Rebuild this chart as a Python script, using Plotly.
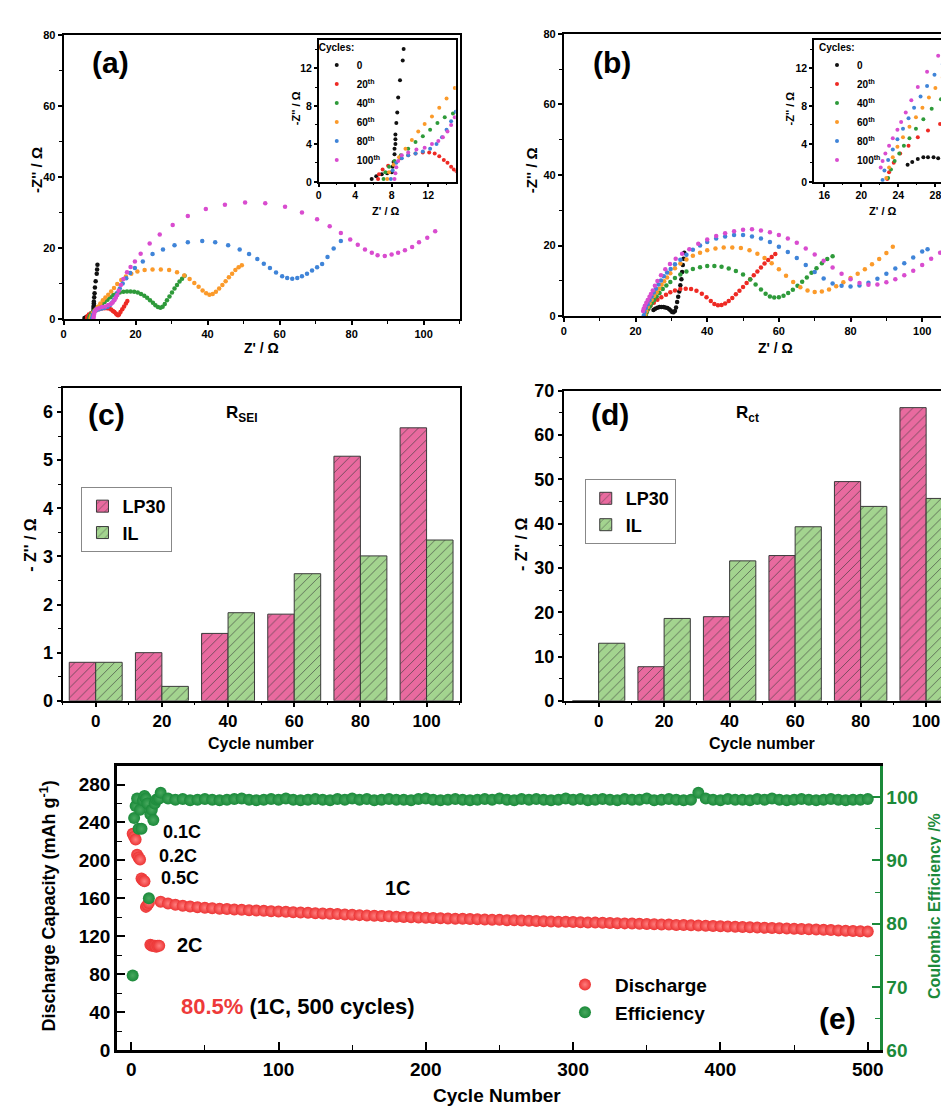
import plotly.graph_objects as go

W, H = 949, 1109
def fx(p): return p / W
def fy(p): return 1 - p / H

FONT = "Liberation Sans, Arial, sans-serif"
CYCLE_LABELS = ["0", "20<sup>th</sup>", "40<sup>th</sup>", "60<sup>th</sup>", "80<sup>th</sup>", "100<sup>th</sup>"]
CYCLE_COLORS = ['#111111', '#ee2a24', '#2e9a3a', '#fb9a2a', '#3f84d8', '#d94ccf']

# ---------------- (a) Nyquist, LP30 ----------------
A0_X = [5.8, 6.3, 6.9, 7.5, 8.0, 8.1, 8.2, 8.3, 8.3, 8.4, 8.4, 8.4, 8.5, 8.6, 8.7, 8.9, 9.2, 9.3, 9.4]
A0_Y = [0.3, 0.6, 0.8, 0.9, 1.0, 1.6, 2.1, 2.9, 3.5, 4.0, 4.5, 5.0, 6.2, 7.3, 8.9, 10.7, 12.8, 14.0, 15.3]
A20_X = [6.5, 6.6, 7.0, 7.6, 8.3, 9.0, 9.8, 10.6, 11.4, 12.1, 12.7, 13.2, 13.7, 14.1, 14.5, 14.8, 15.1, 15.4, 15.8, 16.3, 16.8, 17.3, 17.7]
A20_Y = [0.3, 0.8, 1.3, 1.7, 2.1, 2.5, 2.8, 3.0, 3.1, 3.1, 3.0, 2.7, 2.3, 2.0, 1.6, 1.3, 1.1, 1.3, 2.0, 2.8, 3.6, 4.4, 5.1]
A40_X = [7.1, 7.3, 7.7, 8.3, 9.0, 9.8, 10.6, 11.4, 12.2, 13.0, 13.8, 14.7, 15.6, 16.6, 17.6, 18.6, 19.6, 20.6, 21.5, 22.4, 23.2, 24.0, 24.8, 25.5, 26.2, 26.9, 27.5, 28.1, 28.7, 29.4, 30.1, 30.8, 31.5, 32.2, 32.9, 33.6]
A40_Y = [0.3, 1.0, 1.6, 2.2, 2.8, 3.5, 4.2, 4.8, 5.5, 6.2, 6.8, 7.2, 7.5, 7.7, 7.8, 7.8, 7.7, 7.5, 7.1, 6.6, 6.0, 5.3, 4.6, 3.9, 3.4, 3.2, 3.5, 4.3, 5.3, 6.4, 7.5, 8.6, 9.6, 10.6, 11.4, 12.2]
A60_X = [7.5, 7.7, 8.2, 8.8, 9.5, 10.2, 10.9, 11.6, 12.4, 13.2, 14.0, 14.9, 16.0, 17.3, 18.8, 20.5, 22.5, 24.7, 27.0, 29.3, 31.5, 33.5, 35.0, 36.3, 37.5, 38.6, 39.6, 40.5, 41.4, 42.3, 43.2, 44.1, 45.0, 45.9, 46.8, 47.7, 48.6, 49.5]
A60_Y = [0.3, 1.0, 1.8, 2.6, 3.5, 4.4, 5.3, 6.1, 6.9, 7.8, 8.8, 9.9, 11.0, 12.0, 12.8, 13.4, 13.8, 14.0, 14.0, 13.8, 13.2, 12.3, 11.3, 10.2, 9.1, 8.1, 7.3, 6.9, 7.1, 7.7, 8.6, 9.6, 10.7, 11.8, 12.8, 13.8, 14.6, 15.2]
A80_X = [7.9, 8.1, 8.5, 9.1, 9.8, 10.6, 11.4, 12.2, 12.9, 13.5, 14.0, 14.5, 15.0, 15.6, 16.4, 17.4, 18.5, 19.8, 22.0, 24.7, 27.6, 30.8, 34.5, 38.5, 42.1, 45.7, 48.9, 51.5, 53.8, 55.6, 57.3, 59.0, 60.7, 62.1, 63.5, 64.9, 66.2, 67.6, 69.0, 70.4, 71.8, 73.3, 75.0, 77.0]
A80_Y = [0.3, 1.2, 2.0, 2.5, 2.8, 3.0, 3.2, 3.5, 4.0, 4.7, 5.5, 6.4, 7.4, 8.6, 10.0, 11.5, 13.0, 14.4, 16.2, 18.3, 19.6, 20.8, 21.6, 22.0, 21.6, 20.8, 19.6, 18.3, 16.9, 15.6, 14.4, 13.1, 12.1, 11.6, 11.4, 11.6, 12.1, 12.8, 13.7, 14.6, 15.5, 17.5, 19.9, 22.0]
A100_X = [8.3, 8.4, 8.5, 8.7, 9.1, 9.8, 10.7, 11.6, 12.4, 13.1, 13.6, 14.1, 14.5, 14.9, 15.3, 15.9, 16.6, 17.6, 18.6, 19.8, 21.4, 23.9, 26.7, 30.3, 34.5, 39.5, 44.8, 50.4, 56.0, 61.5, 66.2, 70.4, 73.9, 77.0, 79.6, 81.7, 83.7, 85.6, 87.2, 89.2, 91.1, 92.9, 94.8, 96.8, 98.7, 101.0, 103.2]
A100_Y = [0.3, 0.9, 1.55, 2.2, 2.8, 3.1, 3.4, 3.6, 4.0, 4.3, 4.7, 5.3, 6.0, 6.8, 8.0, 9.6, 11.3, 13.2, 14.7, 16.2, 18.4, 21.3, 23.8, 26.5, 29.0, 31.0, 32.2, 32.8, 32.6, 31.6, 30.0, 28.1, 26.1, 24.2, 22.4, 20.9, 19.6, 18.7, 18.0, 17.8, 18.2, 18.7, 19.4, 20.3, 21.6, 22.9, 24.7]

# ---------------- (b) Nyquist, IL ----------------
B0_X = [25.0, 25.5, 26.1, 26.7, 27.2, 27.8, 28.3, 28.9, 29.4, 29.8, 30.2, 30.6, 31.0, 31.3, 31.6, 31.9, 32.2, 32.5, 32.8, 33.0, 33.2, 33.4, 33.6]
B0_Y = [1.8, 2.1, 2.4, 2.6, 2.6, 2.6, 2.5, 2.3, 2.0, 1.6, 1.2, 1.1, 1.5, 2.5, 4.0, 5.5, 7.0, 8.8, 10.5, 12.5, 14.5, 16.3, 18.0]
B20_X = [22.8, 23.0, 23.5, 24.2, 25.1, 26.1, 27.2, 28.5, 29.7, 31.0, 32.5, 34.0, 35.5, 37.0, 38.5, 39.8, 41.0, 42.0, 43.0, 44.0, 45.0, 46.0, 47.0, 48.0, 49.0, 50.0, 51.0, 52.0, 53.0, 54.0, 55.0, 56.0, 57.0, 58.0, 59.0]
B20_Y = [0.3, 1.0, 2.0, 3.0, 3.8, 4.7, 5.4, 6.1, 6.8, 7.3, 7.7, 7.8, 7.7, 7.2, 6.4, 5.4, 4.3, 3.5, 3.1, 3.2, 3.6, 4.3, 5.2, 6.2, 7.2, 8.3, 9.4, 10.5, 11.6, 12.7, 13.8, 14.9, 15.9, 16.8, 17.6]
B40_X = [22.9, 23.2, 23.6, 24.1, 24.6, 25.2, 25.9, 26.7, 27.6, 28.6, 29.7, 31.0, 32.5, 34.2, 36.0, 38.0, 40.0, 42.0, 44.0, 46.0, 48.0, 50.0, 52.0, 53.5, 55.0, 56.3, 57.5, 58.7, 60.0, 61.3, 62.6, 63.9, 65.2, 66.5, 67.8, 69.1, 70.5, 72.0, 73.5, 75.0]
B40_Y = [0.4, 1.3, 2.2, 3.0, 3.8, 4.6, 5.6, 6.6, 7.7, 8.7, 9.7, 10.8, 11.8, 12.7, 13.4, 13.9, 14.2, 14.2, 14.0, 13.5, 12.8, 11.8, 10.4, 9.0, 7.6, 6.4, 5.6, 5.3, 5.4, 5.8, 6.6, 7.5, 8.6, 9.8, 11.0, 12.3, 13.6, 15.0, 16.2, 17.0]
B60_X = [22.7, 23.0, 23.4, 23.9, 24.5, 25.2, 25.9, 26.6, 27.3, 28.0, 28.8, 29.7, 31.0, 32.5, 34.2, 36.0, 38.0, 40.0, 42.3, 44.6, 47.0, 49.4, 51.8, 54.0, 56.0, 58.0, 60.0, 62.0, 64.0, 66.0, 68.0, 70.0, 72.0, 74.0, 76.0, 78.0, 80.0, 82.0, 84.0, 86.0, 88.0, 90.0, 91.8]
B60_Y = [0.4, 1.5, 2.6, 3.7, 4.7, 5.8, 6.8, 7.8, 8.9, 9.9, 11.0, 12.2, 13.6, 14.9, 16.1, 17.1, 18.0, 18.7, 19.2, 19.5, 19.5, 19.3, 18.7, 17.7, 16.5, 15.0, 13.3, 11.5, 9.7, 8.2, 7.3, 6.9, 7.0, 7.6, 8.5, 9.6, 10.8, 12.0, 13.3, 14.7, 16.2, 17.9, 19.7]
B80_X = [22.3, 22.5, 22.9, 23.4, 23.9, 24.5, 25.1, 25.7, 26.4, 27.1, 27.9, 28.8, 29.8, 31.0, 32.5, 34.2, 36.0, 38.0, 40.0, 42.5, 45.0, 47.5, 50.0, 52.5, 55.0, 57.5, 60.0, 62.5, 65.0, 67.5, 70.0, 72.5, 75.0, 77.5, 80.0, 82.5, 85.0, 87.5, 90.0, 92.5, 95.0, 97.5, 100.0, 101.5]
B80_Y = [0.2, 1.2, 2.3, 3.4, 4.5, 5.6, 6.7, 7.8, 9.0, 10.1, 11.3, 12.4, 13.4, 14.7, 16.0, 17.4, 18.8, 20.0, 21.0, 22.0, 22.6, 23.0, 23.0, 22.6, 22.0, 21.0, 19.7, 18.2, 16.5, 14.5, 12.5, 10.7, 9.3, 8.6, 8.4, 8.7, 9.5, 10.6, 12.0, 13.5, 15.0, 16.6, 18.3, 19.0]
B100_X = [22.1, 22.3, 22.6, 23.0, 23.4, 23.9, 24.3, 24.8, 25.4, 26.1, 27.1, 28.3, 29.6, 31.2, 33.0, 35.0, 37.5, 40.0, 42.5, 45.0, 47.5, 50.0, 52.5, 55.0, 57.5, 60.0, 62.5, 65.0, 67.5, 70.0, 72.5, 75.0, 77.5, 80.0, 82.5, 85.0, 87.5, 90.0, 92.5, 95.0, 97.5, 100.0, 102.5, 105.0, 106.2]
B100_Y = [1.5, 2.2, 3.0, 3.8, 4.6, 5.5, 6.3, 7.3, 8.6, 10.0, 11.6, 13.3, 14.8, 16.3, 17.7, 19.0, 20.5, 21.7, 22.7, 23.5, 24.1, 24.5, 24.6, 24.3, 23.8, 23.0, 22.0, 20.8, 19.2, 17.5, 15.7, 13.8, 12.0, 10.5, 9.4, 8.9, 9.0, 9.6, 10.5, 11.6, 12.9, 14.5, 16.3, 18.0, 19.2]

# ---------------- (c), (d) bars ----------------
BAR_CYCLES = [0, 20, 40, 60, 80, 100]
RSEI_LP30 = [0.80, 1.00, 1.40, 1.80, 5.08, 5.67]
RSEI_IL = [0.80, 0.30, 1.83, 2.64, 3.01, 3.34]
RCT_LP30 = [0.0, 7.7, 19.0, 32.8, 49.5, 66.2]
RCT_IL = [13.0, 18.6, 31.6, 39.3, 43.9, 45.7]

# ---------------- (e) cycling ----------------
E_EARLY_CYC = [1, 2, 3, 4, 5, 6, 7, 8, 9, 10, 11, 12, 13, 14, 15, 16, 17, 18, 19]
E_EARLY_CAP = [228, 225, 222, 206, 203, 201, 181, 179, 178, 151, 153, 155, 111, 110, 110, 110, 109, 110, 110]
E_EARLY_EFF = [71.8, 96.7, 98.6, 99.8, 95.0, 98.0, 95.0, 99.5, 100.2, 99.8, 99.0, 84.0, 97.3, 98.0, 96.4, 99.0, 99.6, 99.7, 99.8]
E_1C_CAP = [156.5, 154.6, 153.2, 152.2, 151.4, 150.7, 150.1, 149.6, 149.1, 148.7,
            148.3, 147.9, 147.5, 147.1, 146.8, 146.4, 146.1, 145.8, 145.4, 145.1,
            144.8, 144.4, 144.1, 143.7, 143.4, 143.0, 142.7, 142.3, 142.0, 141.6,
            141.3, 141.0, 140.7, 140.4, 140.1, 139.8, 139.5, 139.3, 139.1, 138.8,
            138.6, 138.4, 138.1, 137.9, 137.7, 137.5, 137.3, 137.0, 136.8, 136.6,
            136.3, 136.1, 135.9, 135.6, 135.4, 135.2, 135.0, 134.8, 134.6, 134.4,
            134.2, 134.0, 133.8, 133.6, 133.4, 133.2, 133.0, 132.8, 132.5, 132.3,
            132.0, 131.8, 131.5, 131.3, 131.1, 130.8, 130.6, 130.3, 130.1, 129.8,
            129.5, 129.3, 129.0, 128.8, 128.5, 128.3, 128.0, 127.7, 127.4, 127.1,
            126.8, 126.5, 126.2, 125.9, 125.6, 125.3, 125.0]
E_1C_EFF = [100.7, 99.8, 99.6, 99.7, 99.5, 99.6, 99.7, 99.6, 99.5, 99.6,
            99.7, 99.8, 99.6, 99.5, 99.6, 99.7, 99.6, 99.8, 99.6, 99.5,
            99.6, 99.7, 99.6, 99.5, 99.7, 99.6, 99.8, 99.6, 99.7, 99.5,
            99.6, 99.7, 99.6, 99.6, 99.5, 99.7, 99.8, 99.6, 99.5, 99.6,
            99.7, 99.6, 99.5, 99.6, 99.7, 99.6, 99.8, 99.6, 99.5, 99.7,
            99.6, 99.7, 99.6, 99.5, 99.6, 99.8, 99.6, 99.7, 99.5, 99.6,
            99.7, 99.6, 99.5, 99.7, 99.6, 99.6, 99.8, 99.5, 99.6, 99.7,
            99.6, 99.5, 99.6, 100.7, 99.8, 99.6, 99.5, 99.7, 99.6, 99.6,
            99.5, 99.7, 99.6, 99.8, 99.6, 99.5, 99.6, 99.7, 99.6, 99.5,
            99.6, 99.7, 99.6, 99.5, 99.6, 99.6, 99.7]
E_1C_CYC = [20 + 5 * i for i in range(len(E_1C_CAP))]

A_SERIES = [(A0_X, A0_Y), (A20_X, A20_Y), (A40_X, A40_Y), (A60_X, A60_Y), (A80_X, A80_Y), (A100_X, A100_Y)]
B_SERIES = [(B0_X, B0_Y), (B20_X, B20_Y), (B40_X, B40_Y), (B60_X, B60_Y), (B80_X, B80_Y), (B100_X, B100_Y)]

fig = go.Figure()

for (xs, ys), lab, col in zip(A_SERIES, CYCLE_LABELS, CYCLE_COLORS):
    fig.add_trace(go.Scatter(x=xs, y=ys, mode='markers', xaxis='x', yaxis='y', showlegend=False,
                             marker=dict(size=4.5, color=col), hoverinfo='skip'))
    fig.add_trace(go.Scatter(x=xs, y=ys, mode='markers', xaxis='x2', yaxis='y2', name=lab, legend='legend',
                             marker=dict(size=4, color=col)))
for (xs, ys), lab, col in zip(B_SERIES, CYCLE_LABELS, CYCLE_COLORS):
    fig.add_trace(go.Scatter(x=xs, y=ys, mode='markers', xaxis='x3', yaxis='y3', showlegend=False,
                             marker=dict(size=4.5, color=col), hoverinfo='skip'))
    fig.add_trace(go.Scatter(x=xs, y=ys, mode='markers', xaxis='x4', yaxis='y4', name=lab, legend='legend2',
                             marker=dict(size=4, color=col)))

PINK, LGREEN = '#e96a9f', '#a3d48f'
def bar(x, y, name, color, offset, xa, ya, leg):
    return go.Bar(x=x, y=y, name=name, width=8, offset=offset, xaxis=xa, yaxis=ya, legend=leg,
                  marker=dict(color=color, line=dict(color='#3a3a3a', width=1),
                              pattern=dict(shape='/', size=7, solidity=0.12, fgcolor='#3a3a3a', fgopacity=0.75)))

fig.add_trace(bar(BAR_CYCLES, RSEI_LP30, 'LP30', PINK, -8, 'x5', 'y5', 'legend3'))
fig.add_trace(bar(BAR_CYCLES, RSEI_IL, 'IL', LGREEN, 0, 'x5', 'y5', 'legend3'))
fig.add_trace(bar(BAR_CYCLES, RCT_LP30, 'LP30', PINK, -8, 'x6', 'y6', 'legend4'))
fig.add_trace(bar(BAR_CYCLES, RCT_IL, 'IL', LGREEN, 0, 'x6', 'y6', 'legend4'))

RED_E, GREEN_E = '#ec3434', '#1b8a3a'
fig.add_trace(go.Scatter(x=E_EARLY_CYC + E_1C_CYC, y=E_EARLY_CAP + E_1C_CAP, mode='markers', name='Discharge',
                         xaxis='x7', yaxis='y7', legend='legend5',
                         marker=dict(size=12, color=RED_E, gradient=dict(type='radial', color='#ff7e7e'),
                                     line=dict(width=0))))
fig.add_trace(go.Scatter(x=E_EARLY_CYC + E_1C_CYC, y=E_EARLY_EFF + E_1C_EFF, mode='markers', name='Efficiency',
                         xaxis='x7', yaxis='y8', legend='legend5',
                         marker=dict(size=12, color=GREEN_E, gradient=dict(type='radial', color='#47a85e'),
                                     line=dict(width=0))))

def ax(domain, rng, dtick, minor, anchor, fs, lw=2, mirror=True, ticks='outside', tl=4, color='black', **kw):
    d = dict(domain=domain, range=rng, dtick=dtick, anchor=anchor, showgrid=False, zeroline=False,
             showline=True, linecolor=color, linewidth=lw, mirror=mirror, ticks=ticks, ticklen=tl,
             tickwidth=1.5, tickcolor=color,
             tickfont=dict(size=fs, family=FONT, weight='bold', color=color),
             minor=dict(dtick=minor, ticks=ticks, ticklen=tl * 0.6, tickcolor=color, tickwidth=1.2))
    d.update(kw)
    return d

layout = dict(
    width=W, height=H, margin=dict(l=0, r=0, t=0, b=0), paper_bgcolor='white', plot_bgcolor='rgba(0,0,0,0)',
    font=dict(family=FONT, color='black'), barmode='overlay',
    xaxis=ax([fx(53), fx(452)], [0, 110], 20, 10, 'y', 11),
    yaxis=ax([fy(307), fy(17)], [0, 80], 20, 10, 'x', 11),
    xaxis2=ax([fx(310), fx(448)], [0, 15], 4, 2, 'y2', 10.5, lw=1.5, tl=3),
    yaxis2=ax([fy(167), fy(22)], [0, 15], 4, 2, 'x2', 10.5, lw=1.5, tl=3),
    xaxis3=ax([fx(557), 1.0], [0, 108.6], 20, 10, 'y3', 11),
    yaxis3=ax([fy(304), fy(16)], [0, 80], 20, 10, 'x3', 11, mirror=False),
    xaxis4=ax([fx(809), 1.0], [14.9, 29.9], 4, 2, 'y4', 10.5, lw=1.5, tl=3),
    yaxis4=ax([fy(167), fy(22)], [0, 15], 4, 2, 'x4', 10.5, lw=1.5, tl=3, mirror=False),
    xaxis5=ax([fx(52), fx(452)], [-10, 110], 20, 10, 'y5', 17),
    yaxis5=ax([fy(696), fy(377)], [0, 6.5], 1, 0.5, 'x5', 18),
    xaxis6=ax([fx(557), 1.0], [-10.6, 108.2], 20, 10, 'y6', 17),
    yaxis6=ax([fy(696), fy(380)], [0, 70], 10, 5, 'x6', 18, mirror=False),
    xaxis7=ax([fx(107), fx(875)], [-9.5, 508], 100, 50, 'y7', 19, lw=3, ticks='inside', tl=8),
    yaxis7=ax([fy(1052), fy(762)], [0, 300], 40, 20, 'x7', 19, lw=3, ticks='inside', tl=8, mirror=False,
              tickvals=[0, 40, 80, 120, 160, 200, 240, 280]),
    yaxis8=ax([fy(1052), fy(762)], [60, 105], 10, 5, 'x7', 19, lw=3, ticks='inside', tl=8, mirror=False,
              color=GREEN_E, overlaying='y7', side='right', tickvals=[60, 70, 80, 90, 100]),
    legend=dict(x=fx(308), y=fy(20), xanchor='left', yanchor='top', bgcolor='rgba(0,0,0,0)',
                title=dict(text='<b>Cycles:</b>', font=dict(size=10)), font=dict(size=10, weight='bold'),
                tracegroupgap=0, itemwidth=30),
    legend2=dict(x=fx(812), y=fy(20), xanchor='left', yanchor='top', bgcolor='rgba(0,0,0,0)',
                 title=dict(text='<b>Cycles:</b>', font=dict(size=10)), font=dict(size=10, weight='bold'),
                 tracegroupgap=0, itemwidth=30),
    legend3=dict(x=fx(71), y=fy(478), xanchor='left', yanchor='top', bgcolor='white',
                 bordercolor='#888888', borderwidth=1, font=dict(size=18, weight='bold'), tracegroupgap=0),
    legend4=dict(x=fx(578), y=fy(470), xanchor='left', yanchor='top', bgcolor='white',
                 bordercolor='#888888', borderwidth=1, font=dict(size=18, weight='bold'), tracegroupgap=0),
    legend5=dict(x=fx(548), y=fy(966), xanchor='left', yanchor='top', bgcolor='rgba(0,0,0,0)',
                 font=dict(size=19, weight='bold'), itemwidth=50, tracegroupgap=0),
)

def ann(text, x, y, size, color='black', angle=0, bold=True):
    return dict(text=(f'<b>{text}</b>' if bold else text), x=fx(x), y=fy(y), xref='paper', yref='paper',
                showarrow=False, textangle=angle, font=dict(size=size, color=color, family=FONT),
                xanchor='center', yanchor='middle')

annotations = [
    ann('(a)', 100, 45, 30), ann('(b)', 605, 45, 30), ann('(c)', 96, 404, 30), ann('(d)', 603, 404, 30),
    ann('R<sub>SEI</sub>', 232, 404, 17), ann('R<sub>ct</sub>', 742, 404, 17),
    ann("Z' / Ω", 252, 336, 14), ann("-Z'' / Ω", 25, 155, 15, angle=-90),
    ann("Z' / Ω", 378, 197, 11), ann("-Z'' / Ω", 287, 92, 11, angle=-90),
    ann("Z' / Ω", 770, 336, 14), ann("-Z'' / Ω", 524, 155, 15, angle=-90),
    ann("Z' / Ω", 878, 197, 11), ann("-Z'' / Ω", 785, 92, 11, angle=-90),
    ann('Cycle number', 252, 739, 16), ann("- Z'' / Ω", 20, 537, 16, angle=-90),
    ann('Cycle number', 757, 739, 16), ann("- Z'' / Ω", 515, 537, 16, angle=-90),
    ann('Cycle Number', 490, 1098, 19),
    ann('Discharge Capacity (mAh g<sup>-1</sup>)', 38, 905, 18, angle=-90),
    ann('Coulombic Efficiency /%', 931, 905, 16, color=GREEN_E, angle=-90),
    ann('0.1C', 172, 830, 18), ann('0.2C', 168, 854, 18), ann('0.5C', 170, 877, 18),
    ann('1C', 390, 887, 20), ann('2C', 180, 945, 20),
    ann('<span style="color:#ee3a3a">80.5%</span> (1C, 500 cycles)', 289, 1008, 22),
    ann('(e)', 833, 1020, 30),
]
layout['annotations'] = annotations
fig.update_layout(**layout)
fig.write_html("out.html")
